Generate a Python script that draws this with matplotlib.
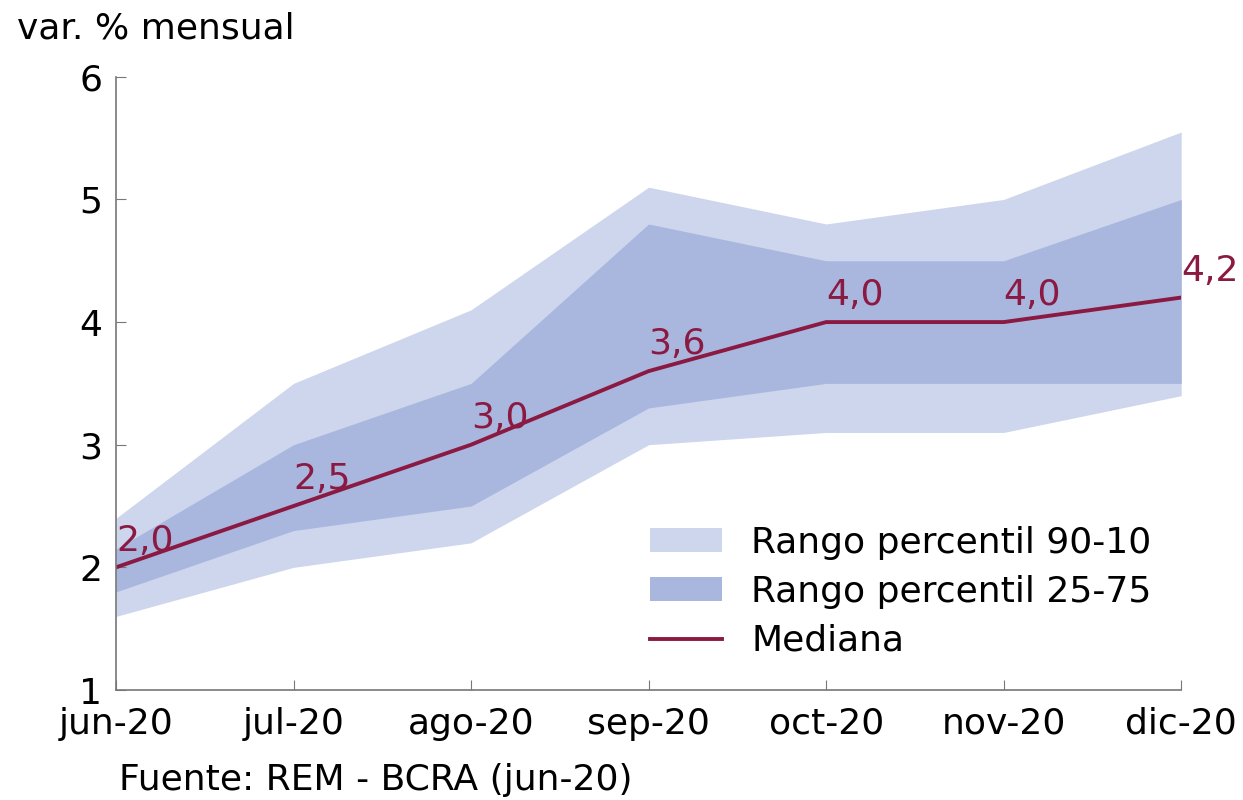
import matplotlib
matplotlib.use("Agg")
import matplotlib.pyplot as plt

meses = ["jun-20", "jul-20", "ago-20", "sep-20", "oct-20", "nov-20", "dic-20"]
mediana = [2.0, 2.5, 3.0, 3.6, 4.0, 4.0, 4.2]
p10 = [1.6, 2.0, 2.2, 3.0, 3.1, 3.1, 3.4]
p90 = [2.4, 3.5, 4.1, 5.1, 4.8, 5.0, 5.55]
p25 = [1.8, 2.3, 2.5, 3.3, 3.5, 3.5, 3.5]
p75 = [2.15, 3.0, 3.5, 4.8, 4.5, 4.5, 5.0]

light = "#cdd6ec"
dark = "#a9b7df"
line_col = "#8b1a42"
gris = "#777777"
fs = 26

plt.rcParams['font.family'] = ['DejaVu Sans']

fig = plt.figure(figsize=(12.43, 8), dpi=100)
ax = fig.add_axes([0.0933, 0.1375, 0.857, 0.7665])

x = list(range(len(meses)))
ax.fill_between(x, p10, p90, color=light, linewidth=0, label="Rango percentil 90-10")
ax.fill_between(x, p25, p75, color=dark, linewidth=0, label="Rango percentil 25-75")
ax.plot(x, mediana, color=line_col, linewidth=2.8, label="Mediana")

for xi, v in zip(x, mediana):
    ax.annotate(f"{v:.1f}".replace(".", ","), (xi, v), xytext=(0, 7),
                textcoords="offset points", ha="left", va="bottom",
                color=line_col, fontsize=fs)

ax.set_xlim(0, len(meses) - 1)
ax.set_ylim(1, 6)
ax.set_yticks([1, 2, 3, 4, 5, 6])
ax.set_xticks(x)
ax.set_xticklabels(meses)
ax.tick_params(axis="both", direction="in", length=7, color=gris, labelsize=fs)
ax.tick_params(axis="y", pad=10)
ax.tick_params(axis="x", pad=12)
for s in ["top", "right"]:
    ax.spines[s].set_visible(False)
for s in ["left", "bottom"]:
    ax.spines[s].set_color(gris)
    ax.spines[s].set_linewidth(1.2)

fig.text(0.014, 0.964, "var. % mensual", fontsize=fs, ha="left", va="center")
fig.text(0.096, 0.025, "Fuente: REM - BCRA (jun-20)", fontsize=fs, ha="left", va="center")

leg = ax.legend(loc="upper left", bbox_to_anchor=(0.523, 0.343), bbox_transform=fig.transFigure,
                frameon=False, fontsize=fs, handlelength=2.0, handleheight=0.65,
                labelspacing=0.42, handletextpad=0.8, borderpad=0, borderaxespad=0)

fig.savefig("out.png", dpi=100)
